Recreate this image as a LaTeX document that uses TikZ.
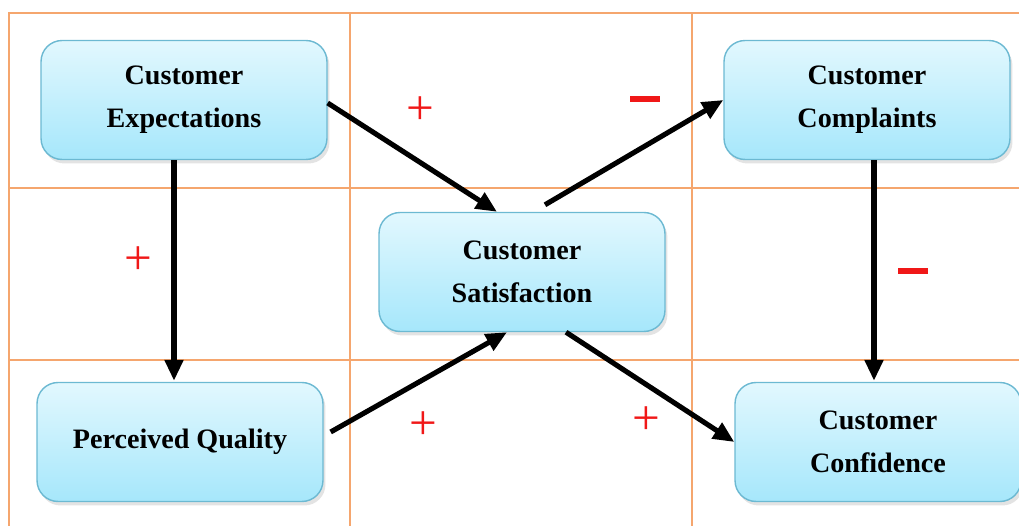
\documentclass[tikz,border=0pt]{standalone}
\usepackage{fontspec}
\setmainfont{Liberation Serif}
\usepackage{xcolor}
\usetikzlibrary{arrows.meta,shadows}
\definecolor{grid}{HTML}{F5A66E}
\definecolor{boxtop}{HTML}{E2F8FE}
\definecolor{boxbot}{HTML}{A6E7FB}
\definecolor{boxline}{HTML}{6CB9D2}
\definecolor{sign}{HTML}{F01818}
\tikzset{
  gridline/.style={draw=grid, line width=0.85pt},
  factor/.style={rectangle, rounded corners=0.42cm, draw=boxline, line width=0.8pt,
    top color=boxtop, bottom color=boxbot, minimum width=5.72cm, minimum height=2.38cm,
    align=center, font=\fontsize{16}{24.5}\selectfont\bfseries,
    drop shadow={opacity=0.22, shadow xshift=0.05cm, shadow yshift=-0.08cm}},
  link/.style={draw=black, line width=2.9pt, -{Triangle[length=0.42cm, width=0.36cm]}},
  plus/.style={text=sign, font=\fontsize{28}{28}\selectfont, inner sep=0pt},
  minus/.style={fill=sign, inner sep=0pt, minimum width=0.6cm, minimum height=0.13cm},
}
\begin{document}
\begin{tikzpicture}[x=0.02cm,y=-0.02cm]
  \useasboundingbox (0,0) rectangle (1019,526);
  % grid behind the diagram
  \draw[gridline] (9,526) -- (9,13) -- (1019,13);
  \draw[gridline] (9,188) -- (1019,188);
  \draw[gridline] (9,360) -- (1019,360);
  \draw[gridline] (350,13) -- (350,526);
  \draw[gridline] (692,13) -- (692,526);
  % factors
  \node[factor] (exp) at (184,100) {Customer\\Expectations};
  \node[factor] (comp) at (867,100) {Customer\\Complaints};
  \node[factor] (sat) at (522,272) {Customer\\Satisfaction};
  \node[factor] (qual) at (180,442) {Perceived Quality};
  \node[factor] (conf) at (878,442) {Customer\\Confidence};
  % links
  \draw[link] ([yshift=-0.06cm]exp.east) -- ([xshift=-0.5cm]sat.north);
  \draw[link] ([xshift=0.46cm,yshift=0.14cm]sat.north) -- (comp.west);
  \draw[link] ([xshift=-0.2cm]exp.south) -- ([xshift=-0.2cm,yshift=0.02cm]exp.south |- qual.north);
  \draw[link] ([xshift=0.14cm]comp.south) -- ([xshift=0.14cm,yshift=0.02cm]comp.south |- conf.north);
  \draw[link] ([xshift=0.14cm,yshift=0.2cm]qual.east) -- ([xshift=-0.3cm]sat.south);
  \draw[link] ([xshift=0.88cm]sat.south) -- (conf.west);
  % signs
  \node[plus] (s1) at (420,111) {+};
  \node[plus] (s2) at (138,261) {+};
  \node[plus] (s3) at (423,426) {+};
  \node[plus] (s4) at (646,421) {+};
  \node[minus] (s5) at (645,99) {};
  \node[minus] (s6) at (913,271) {};
\end{tikzpicture}
\end{document}
